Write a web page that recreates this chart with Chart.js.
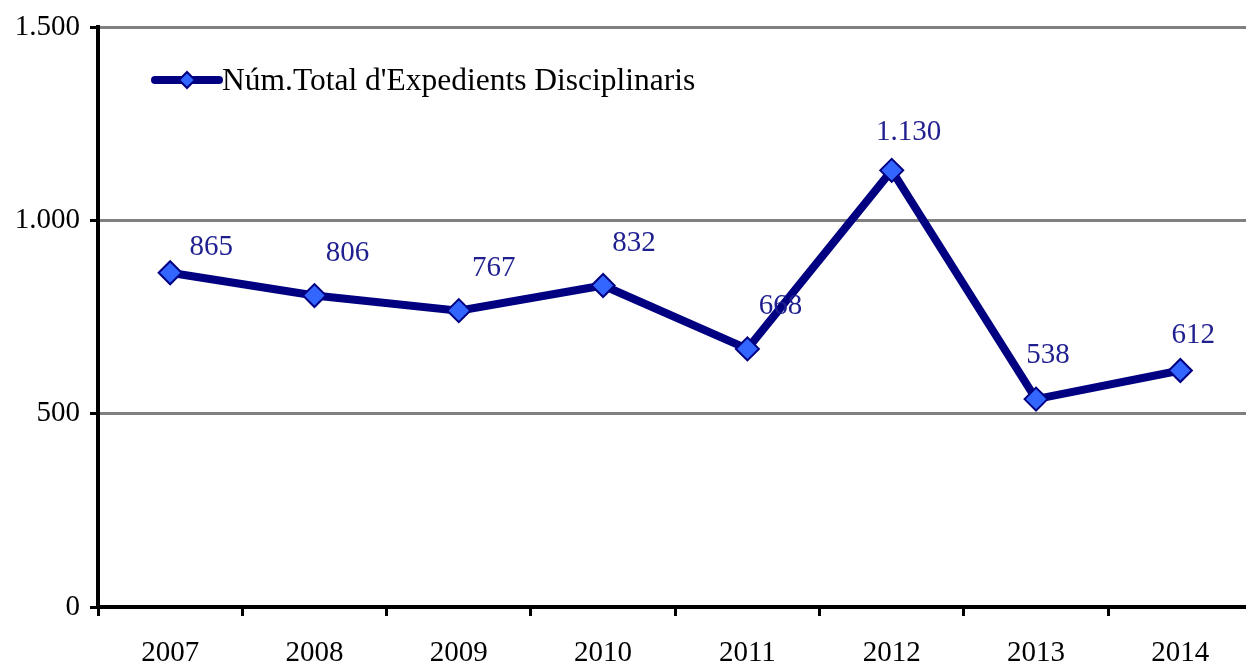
<!DOCTYPE html>
<html><head><meta charset="utf-8">
<script src="https://cdn.jsdelivr.net/npm/chart.js@4"></script>
<style>html,body{margin:0;padding:0;background:#fff;overflow:hidden}</style>
</head><body>
<canvas id="c" width="1266" height="664"></canvas>
<script>
const years = ['2007','2008','2009','2010','2011','2012','2013','2014'];
const expedients = [865, 806, 767, 832, 668, 1130, 538, 612];
const valueLabels = ['865','806','767','832','668','1.130','538','612'];
const seriesName = "Núm.Total d'Expedients Disciplinaris";
const yTickValues = [0, 500, 1000, 1500];
const yTickLabels = ['0','500','1.000','1.500'];

const FONT = "'Liberation Serif', 'DejaVu Serif', serif";
const NAVY = '#000080';
const MARKER = '#3366FF';

const labelPlugin = {
  id: 'valueLabels',
  afterDatasetsDraw(chart) {
    const offs = [[41,-25],[33,-42],[35,-42],[31,-42],[33,-42],[17,-38],[12,-44],[13,-35]];
    const ctx = chart.ctx;
    const meta = chart.getDatasetMeta(0);
    ctx.save();
    ctx.font = '29px ' + FONT;
    ctx.fillStyle = '#1F1F8F';
    ctx.textAlign = 'center';
    ctx.textBaseline = 'middle';
    meta.data.forEach((pt, i) => {
      const o = offs[i];
      ctx.fillText(valueLabels[i], pt.x + o[0], pt.y + o[1]);
    });
    ctx.restore();
  }
};

const legendPlugin = {
  id: 'insideLegend',
  afterDatasetsDraw(chart) {
    const ctx = chart.ctx;
    const a = chart.chartArea;
    const y = 80;
    const x0 = a.left + 57, x1 = a.left + 121, cx = (x0 + x1) / 2;
    ctx.save();
    ctx.strokeStyle = NAVY;
    ctx.lineWidth = 8;
    ctx.lineCap = 'round';
    ctx.beginPath(); ctx.moveTo(x0, y); ctx.lineTo(x1, y); ctx.stroke();
    ctx.fillStyle = MARKER;
    ctx.lineWidth = 2;
    ctx.beginPath();
    ctx.moveTo(cx, y - 8); ctx.lineTo(cx + 8, y); ctx.lineTo(cx, y + 8); ctx.lineTo(cx - 8, y); ctx.closePath();
    ctx.fill(); ctx.stroke();
    ctx.fillStyle = '#000';
    ctx.font = '31.5px ' + FONT;
    ctx.textBaseline = 'middle';
    ctx.textAlign = 'left';
    ctx.fillText(seriesName, x1 + 3, y + 2);
    ctx.restore();
  }
};

new Chart(document.getElementById('c'), {
  type: 'line',
  data: {
    labels: years,
    datasets: [{
      label: seriesName,
      data: expedients,
      borderColor: NAVY,
      borderWidth: 8,
      backgroundColor: MARKER,
      pointStyle: 'rectRot',
      pointRadius: 11.5,
      pointHoverRadius: 11.5,
      pointBackgroundColor: MARKER,
      pointBorderColor: NAVY,
      pointBorderWidth: 2,
      tension: 0,
      fill: false
    }]
  },
  options: {
    responsive: false,
    animation: false,
    devicePixelRatio: 1,
    layout: { padding: { top: 27, right: 0, left: 0, bottom: 0 } },
    plugins: { legend: { display: false }, tooltip: { enabled: false } },
    scales: {
      x: {
        offset: true,
        grid: { offset: true, drawOnChartArea: false, tickLength: 9, tickColor: '#000', lineWidth: 3 },
        border: { color: '#000', width: 4 },
        ticks: { color: '#000', font: { family: FONT, size: 29 }, padding: 20, maxRotation: 0 },
        afterFit(s) { s.height = 57; }
      },
      y: {
        min: 0, max: 1500,
        afterBuildTicks(s) { s.ticks = yTickValues.map(v => ({ value: v })); },
        grid: { color: '#808080', lineWidth: 3, tickLength: 8, tickColor: '#000' },
        border: { color: '#000', width: 4 },
        ticks: {
          color: '#000', font: { family: FONT, size: 29 }, padding: 10,
          callback(v) { const i = yTickValues.indexOf(v); return i >= 0 ? yTickLabels[i] : ''; }
        },
        afterFit(s) { s.width = 98; }
      }
    }
  },
  plugins: [labelPlugin, legendPlugin]
});
</script>
</body></html>
